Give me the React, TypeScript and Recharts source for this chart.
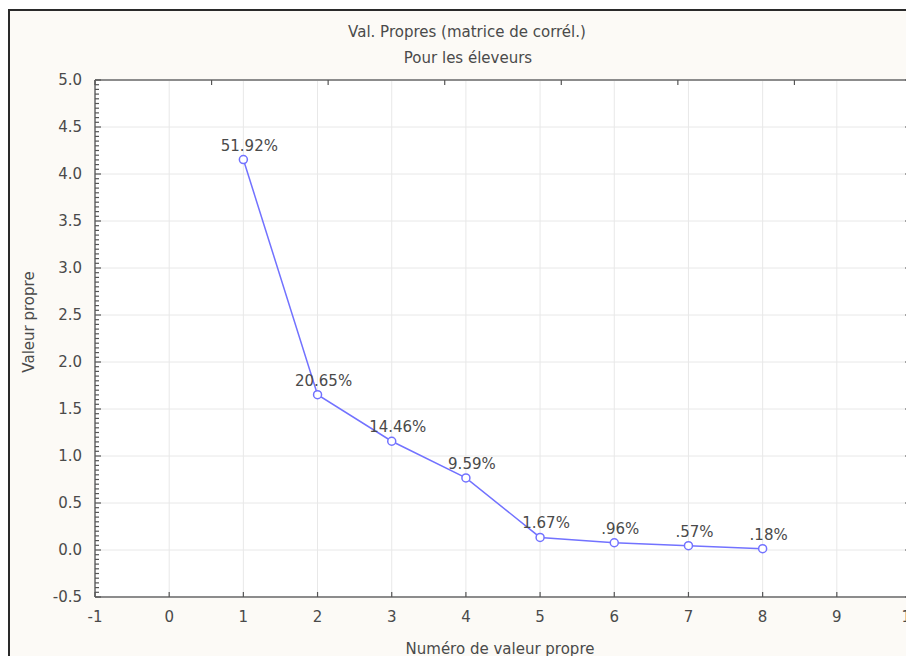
import { LineChart, Line, XAxis, YAxis, CartesianGrid, LabelList } from "recharts";

const components = [1, 2, 3, 4, 5, 6, 7, 8];
const eigenvalues = [4.154, 1.652, 1.157, 0.767, 0.134, 0.077, 0.046, 0.014];
const percentLabels = ["51.92%", "20.65%", "14.46%", "9.59%", "1.67%", ".96%", ".57%", ".18%"];

const xTicks = [-1, 0, 1, 2, 3, 4, 5, 6, 7, 8, 9, 10];
const yTicks = [-0.5, 0, 0.5, 1, 1.5, 2, 2.5, 3, 3.5, 4, 4.5, 5];
const yTickLabels = ["-0.5", "0.0", "0.5", "1.0", "1.5", "2.0", "2.5", "3.0", "3.5", "4.0", "4.5", "5.0"];

const data = components.map((c, i) => ({ comp: c, value: eigenvalues[i], pct: percentLabels[i] }));

// minor ticks: 9 between each pair of major y ticks
const yMinor: number[] = [];
yTicks.forEach((t, i) => {
  yMinor.push(t);
  if (i < yTicks.length - 1) {
    const step = (yTicks[i + 1] - t) / 10;
    for (let k = 1; k < 10; k++) yMinor.push(Math.round((t + k * step) * 1000) / 1000);
  }
});

const FONT = "DejaVu Sans, Verdana, sans-serif";
const TEXT = "#4a4a4a";
const TICK = "#555";
const LINE = "#7272ff";
const BORDER = "#8c8c8c";

const majorIndex = (v: number) => yTicks.findIndex((t) => Math.abs(t - v) < 1e-6);

const LeftTick = (props: any) => {
  const { x, y, payload } = props;
  const idx = majorIndex(payload.value);
  return (
    <g>
      <line x1={x} x2={x + (idx >= 0 ? 6 : 4)} y1={y} y2={y} stroke={TICK} strokeWidth={1.2} />
      {idx >= 0 && (
        <text x={x - 13} y={y + 5} textAnchor="end" fontSize={15} fontFamily={FONT} fill={TEXT}>
          {yTickLabels[idx]}
        </text>
      )}
    </g>
  );
};

const RightTick = (props: any) => {
  const { x, y, payload } = props;
  const idx = majorIndex(payload.value);
  return <line x1={x} x2={x - (idx >= 0 ? 6 : 4)} y1={y} y2={y} stroke={TICK} strokeWidth={1.2} />;
};

const TopTick = (props: any) => {
  const { x, y } = props;
  return <line x1={x} x2={x} y1={y} y2={y + 5} stroke={TICK} strokeWidth={1.2} />;
};

const BottomTick = (props: any) => {
  const { x, y, payload } = props;
  return (
    <g>
      <line x1={x} x2={x} y1={y} y2={y - 5} stroke={TICK} strokeWidth={1.2} />
      <text x={x} y={y + 25} textAnchor="middle" fontSize={15} fontFamily={FONT} fill={TEXT}>
        {payload.value}
      </text>
    </g>
  );
};

const PointLabel = (props: any) => {
  const { x, y, value } = props;
  return (
    <text x={x + 6} y={y - 9} textAnchor="middle" fontSize={15} fontFamily={FONT} fill={TEXT}>
      {value}
    </text>
  );
};

export default function App() {
  return (
    <div style={{ position: "relative", width: 914, height: 664, margin: -8, background: "#fff", overflow: "hidden" }}>
      <div
        style={{
          position: "absolute",
          left: 8,
          top: 9,
          width: 940,
          height: 700,
          border: "2px solid #2a2a2a",
          background: "#fcfaf6",
        }}
      />
      <div style={{ position: "absolute", left: 0, top: 0 }}>
        <LineChart width={914} height={664} data={data} margin={{ top: 0, right: 0, bottom: 0, left: 0 }}>
          <CartesianGrid
            xAxisId="b"
            yAxisId="l"
            stroke="#e8e8e8"
            fill="#ffffff"
            fillOpacity={1}
            horizontalValues={yTicks}
            verticalValues={xTicks}
          />
          <XAxis
            xAxisId="b"
            dataKey="comp"
            type="number"
            domain={[-1, 10]}
            ticks={xTicks}
            interval={0}
            height={67}
            tickSize={0}
            tickMargin={0}
            tickLine={false}
            axisLine={{ stroke: BORDER, strokeWidth: 2 }}
            tick={<BottomTick />}
          />
          <XAxis
            xAxisId="t"
            orientation="top"
            type="number"
            domain={[-1, 10]}
            ticks={xTicks}
            interval={0}
            height={80}
            tickSize={0}
            tickMargin={0}
            tickLine={false}
            axisLine={{ stroke: BORDER, strokeWidth: 2 }}
            tick={<TopTick />}
          />
          <YAxis
            yAxisId="l"
            type="number"
            domain={[-0.5, 5]}
            ticks={yMinor}
            interval={0}
            width={95}
            tickSize={0}
            tickMargin={0}
            tickLine={false}
            axisLine={{ stroke: BORDER, strokeWidth: 2 }}
            tick={<LeftTick />}
          />
          <YAxis
            yAxisId="r"
            orientation="right"
            type="number"
            domain={[-0.5, 5]}
            allowDataOverflow
            ticks={yMinor}
            interval={0}
            width={3}
            tickSize={0}
            tickMargin={0}
            tickLine={false}
            axisLine={{ stroke: BORDER, strokeWidth: 2 }}
            tick={<RightTick />}
          />
          {/* invisible copy so the right axis has data and draws its ticks */}
          <Line
            xAxisId="b"
            yAxisId="r"
            dataKey="value"
            stroke="none"
            dot={false}
            activeDot={false}
            legendType="none"
            isAnimationActive={false}
          />
          <Line
            xAxisId="b"
            yAxisId="l"
            dataKey="value"
            stroke={LINE}
            strokeWidth={1.5}
            dot={{ r: 4, stroke: LINE, strokeWidth: 1.5, fill: "#fff" }}
            isAnimationActive={false}
          >
            <LabelList dataKey="pct" content={<PointLabel />} />
          </Line>
        </LineChart>
      </div>
      <svg width={914} height={664} style={{ position: "absolute", left: 0, top: 0, pointerEvents: "none" }}>
        <text x={467} y={37} textAnchor="middle" fontSize={15} fontFamily={FONT} fill={TEXT}>
          Val. Propres (matrice de corrél.)
        </text>
        <text x={468} y={63} textAnchor="middle" fontSize={15} fontFamily={FONT} fill={TEXT}>
          Pour les éleveurs
        </text>
        <text x={500} y={654} textAnchor="middle" fontSize={15} fontFamily={FONT} fill={TEXT}>
          Numéro de valeur propre
        </text>
        <text
          x={34}
          y={322}
          textAnchor="middle"
          fontSize={15}
          fontFamily={FONT}
          fill={TEXT}
          transform="rotate(-90 34 322)"
        >
          Valeur propre
        </text>
      </svg>
    </div>
  );
}
